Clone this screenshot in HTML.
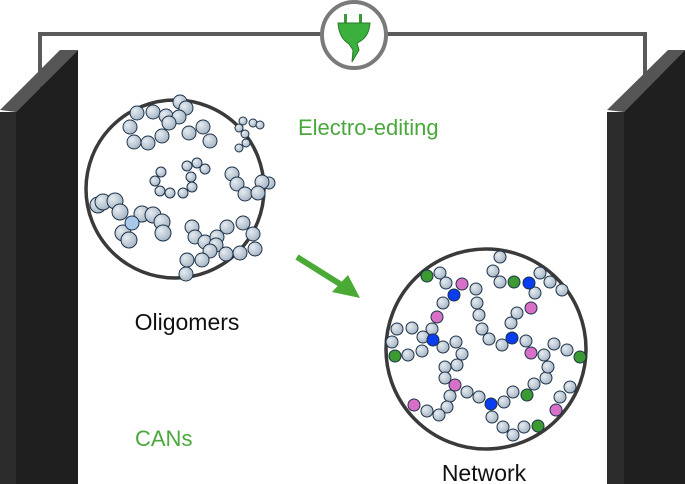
<!DOCTYPE html>
<html><head><meta charset="utf-8"><style>
html,body{margin:0;padding:0;background:#fff;}
svg{display:block;}
text{font-family:"Liberation Sans",sans-serif;}
</style></head><body>
<svg width="685" height="484" viewBox="0 0 685 484" xmlns="http://www.w3.org/2000/svg">
<defs>
<radialGradient id="b" cx="0.35" cy="0.35" r="0.75">
<stop offset="0" stop-color="#e6ecf1"/><stop offset="1" stop-color="#9fb0c0"/></radialGradient>
</defs>
<!-- wires -->
<polyline points="40,88 40,34 645,34 645,80" fill="none" stroke="#5a5a5a" stroke-width="4"/>
<!-- left slab -->
<polygon points="0,110 60,50 78,50 16,112" fill="#555"/>
<polygon points="0,112 16,112 16,484 0,484" fill="#2c2c2c"/>
<polygon points="16,112 78,50 78,484 16,484" fill="#1f1f1f"/>
<!-- right slab -->
<polygon points="607,110 668,50 685,50 624,112" fill="#555"/>
<polygon points="607,112 624,112 624,484 607,484" fill="#2c2c2c"/>
<polygon points="624,112 685,50 685,484 624,484" fill="#1f1f1f"/>
<!-- plug -->
<ellipse cx="354" cy="35" rx="32" ry="33" fill="#fff" stroke="#7a7a7a" stroke-width="4"/>
<rect x="344" y="14" width="3" height="9" fill="#3a9a3a"/><rect x="359" y="14" width="3" height="9" fill="#3a9a3a"/>
<path d="M338,23 L370,23 Q369,38 357,43 L359,50 L352,62 L353,50 L349,44 Q339,38 338,23Z" fill="#3cb03c" stroke="#2a7a2a" stroke-width="1"/>
<!-- texts -->
<text x="298" y="135" font-size="22" fill="#4aa83c">Electro-editing</text>
<text x="187" y="330" font-size="23" fill="#111" text-anchor="middle">Oligomers</text>
<text x="135" y="446" font-size="22" fill="#4aa83c">CANs</text>
<text x="484" y="481" font-size="23" fill="#111" text-anchor="middle">Network</text>
<!-- arrow -->
<line x1="297" y1="257" x2="340" y2="284" stroke="#4aaa35" stroke-width="6"/>
<polygon points="332,292 348,275 360,298" fill="#4aaa35"/>
<!-- oligomer circle -->
<circle cx="175" cy="189" r="89" fill="#fff" stroke="#3a3a3a" stroke-width="3.5"/>
<g fill="url(#b)" stroke="#1e3248" stroke-width="1">
<g>
<circle cx="137" cy="113" r="7"/><circle cx="153" cy="112" r="7"/><circle cx="166" cy="116" r="7"/><circle cx="180" cy="102" r="7"/><circle cx="186" cy="108" r="7"/><circle cx="179" cy="117" r="7"/><circle cx="169" cy="123" r="7"/><circle cx="130" cy="127" r="7"/><circle cx="162" cy="136" r="7"/><circle cx="148" cy="143" r="7"/><circle cx="134" cy="142" r="7"/><circle cx="189" cy="133" r="7"/><circle cx="203" cy="127" r="7"/><circle cx="210" cy="141" r="7"/>
</g>
<circle cx="243" cy="121" r="4"/><circle cx="253" cy="123" r="4"/><circle cx="260" cy="125" r="4"/><circle cx="239" cy="128" r="4"/><circle cx="245" cy="134" r="4"/><circle cx="246" cy="143" r="4"/><circle cx="239" cy="148" r="4"/>
<circle cx="161" cy="172" r="5"/><circle cx="155" cy="181" r="5"/><circle cx="160" cy="191" r="5"/><circle cx="170" cy="193" r="5"/><circle cx="183" cy="193" r="5"/><circle cx="192" cy="187" r="5"/><circle cx="191" cy="177" r="5"/><circle cx="187" cy="166" r="5"/><circle cx="197" cy="163" r="5"/><circle cx="205" cy="169" r="5"/>
<circle cx="232" cy="174" r="7"/><circle cx="237" cy="184" r="7"/><circle cx="245" cy="194" r="7"/><circle cx="269" cy="183" r="6"/><circle cx="262" cy="182" r="7"/><circle cx="258" cy="193" r="7"/>
<circle cx="98" cy="205" r="8"/><circle cx="103" cy="202" r="8"/><circle cx="115" cy="201" r="8"/><circle cx="120" cy="212" r="8"/><circle cx="123" cy="233" r="8"/><circle cx="129" cy="240" r="8"/><circle cx="142" cy="214" r="8"/><circle cx="153" cy="215" r="8"/><circle cx="162" cy="222" r="8"/><circle cx="163" cy="233" r="8"/>
<circle cx="132" cy="223" r="7" fill="#a8c8ea"/>
<circle cx="192" cy="227" r="7"/><circle cx="195" cy="237" r="7"/><circle cx="205" cy="242" r="7"/><circle cx="217" cy="237" r="7"/><circle cx="216" cy="245" r="7"/><circle cx="227" cy="227" r="7"/><circle cx="243" cy="223" r="7"/><circle cx="253" cy="234" r="7"/><circle cx="255" cy="249" r="7"/><circle cx="240" cy="253" r="7"/><circle cx="226" cy="254" r="7"/><circle cx="210" cy="251" r="7"/><circle cx="202" cy="260" r="7"/><circle cx="187" cy="260" r="7"/><circle cx="186" cy="274" r="7"/>
</g>
<!-- network circle -->
<circle cx="486" cy="349" r="100" fill="#fff" stroke="#3a3a3a" stroke-width="3.5"/>
<g fill="url(#b)" stroke="#1e3248" stroke-width="1">
<circle cx="440" cy="273" r="6"/><circle cx="446" cy="283" r="6"/><circle cx="476" cy="289" r="6"/><circle cx="477" cy="303" r="6"/><circle cx="479" cy="315" r="6"/><circle cx="482" cy="329" r="6"/><circle cx="489" cy="339" r="6"/><circle cx="502" cy="345" r="6"/><circle cx="511" cy="323" r="6"/><circle cx="517" cy="313" r="6"/><circle cx="535" cy="293" r="6"/><circle cx="500" cy="282" r="6"/><circle cx="493" cy="271" r="6"/><circle cx="500" cy="257" r="6"/><circle cx="540" cy="273" r="6"/><circle cx="550" cy="282" r="6"/><circle cx="562" cy="290" r="6"/>
<circle cx="443" cy="303" r="6"/><circle cx="432" cy="329" r="6"/><circle cx="423" cy="337" r="6"/><circle cx="412" cy="328" r="6"/><circle cx="397" cy="329" r="6"/><circle cx="392" cy="342" r="6"/><circle cx="408" cy="355" r="6"/><circle cx="422" cy="351" r="6"/><circle cx="443" cy="347" r="6"/><circle cx="456" cy="342" r="6"/><circle cx="462" cy="354" r="6"/><circle cx="457" cy="365" r="6"/><circle cx="445" cy="367" r="6"/><circle cx="445" cy="378" r="6"/><circle cx="467" cy="392" r="6"/><circle cx="479" cy="397" r="6"/><circle cx="504" cy="402" r="6"/><circle cx="513" cy="392" r="6"/><circle cx="534" cy="384" r="6"/><circle cx="546" cy="378" r="6"/><circle cx="548" cy="367" r="6"/><circle cx="544" cy="355" r="6"/><circle cx="526" cy="341" r="6"/><circle cx="554" cy="344" r="6"/><circle cx="567" cy="350" r="6"/><circle cx="570" cy="387" r="6"/><circle cx="560" cy="397" r="6"/><circle cx="450" cy="396" r="6"/><circle cx="447" cy="407" r="6"/><circle cx="439" cy="415" r="6"/><circle cx="427" cy="411" r="6"/><circle cx="492" cy="417" r="6"/><circle cx="503" cy="427" r="6"/><circle cx="513" cy="435" r="6"/><circle cx="524" cy="427" r="6"/>
</g>
<g stroke="#1e3248" stroke-width="1">
<g fill="#3c9a32"><circle cx="427" cy="276" r="6"/><circle cx="514" cy="282" r="6"/><circle cx="395" cy="356" r="6"/><circle cx="527" cy="395" r="6"/><circle cx="580" cy="357" r="6"/><circle cx="538" cy="426" r="6"/></g>
<g fill="#d870c8"><circle cx="462" cy="284" r="6"/><circle cx="531" cy="308" r="6"/><circle cx="437" cy="317" r="6"/><circle cx="455" cy="385" r="6"/><circle cx="531" cy="353" r="6"/><circle cx="556" cy="410" r="6"/><circle cx="414" cy="405" r="6"/></g>
<g fill="#0a3cf0"><circle cx="454" cy="295" r="6"/><circle cx="529" cy="283" r="6"/><circle cx="512" cy="338" r="6"/><circle cx="433" cy="340" r="6"/><circle cx="491" cy="404" r="6"/></g>
</g>
</svg>
</body></html>
